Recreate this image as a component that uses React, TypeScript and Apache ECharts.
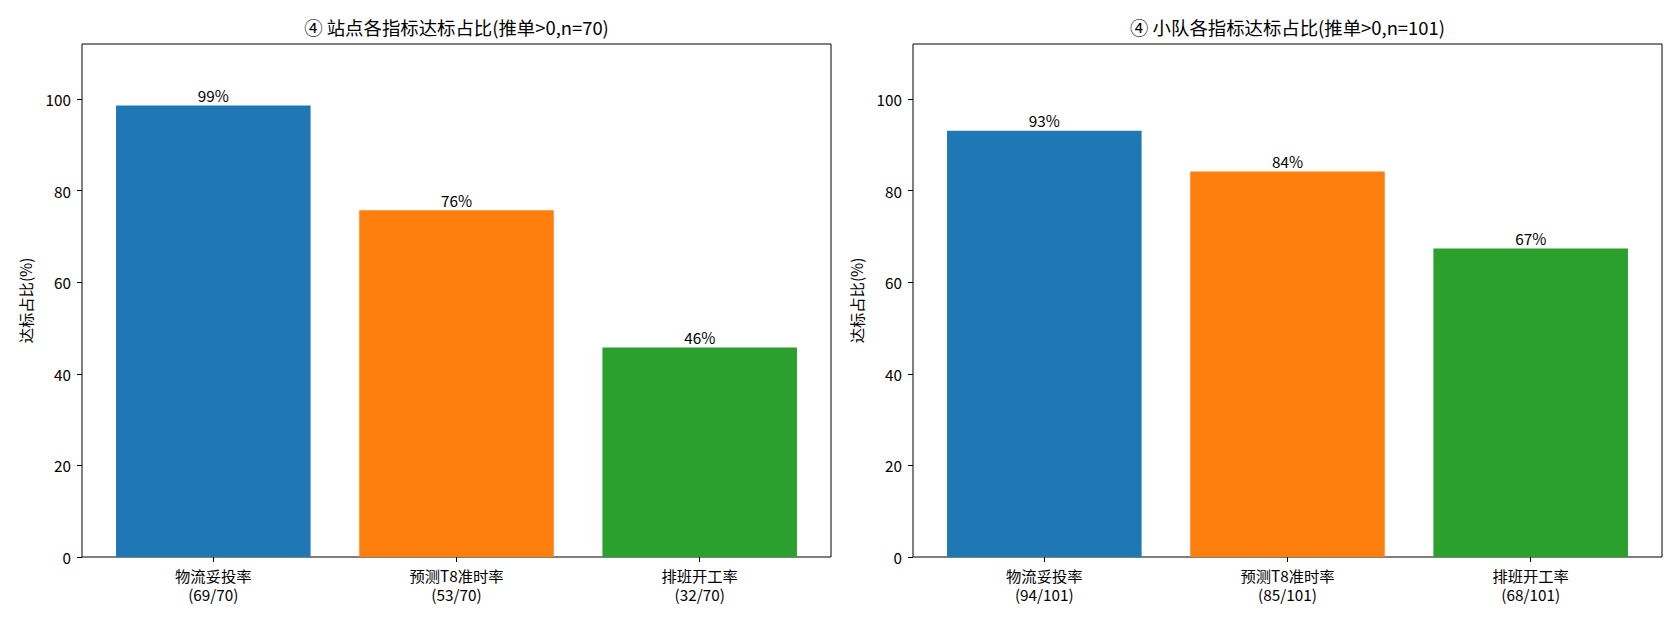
import React, { useEffect, useRef } from "react";
import * as echarts from "echarts";

// ---- data ----
const categories = ["物流妥投率", "预测T8准时率", "排班开工率"];
const siteHits = [69, 53, 32];
const siteTotal = 70;
const teamHits = [94, 85, 68];
const teamTotal = 101;
const barColors = ["#1f77b4", "#ff7f0e", "#2ca02c"];
const yTicks = [0, 20, 40, 60, 80, 100];
const siteTitle = "④ 站点各指标达标占比(推单>0,n=70)";
const teamTitle = "④ 小队各指标达标占比(推单>0,n=101)";
const yName = "达标占比(%)";

const FONT = "Noto Sans CJK SC";

export default function App() {
  const ref = useRef<HTMLDivElement>(null);
  useEffect(() => {
    if (!ref.current) return;
    const chart = echarts.init(ref.current, null, { renderer: "svg" });

    const grids = [
      { left: 82, top: 44, width: 749, height: 513 },
      { left: 913, top: 44, width: 749, height: 513 },
    ];
    const panels = [
      { hits: siteHits, total: siteTotal, title: siteTitle },
      { hits: teamHits, total: teamTotal, title: teamTitle },
    ];

    const xAxes = panels.map((p, i) => ({
      type: "value",
      gridIndex: i,
      min: -0.54,
      max: 2.54,
      position: "bottom",
      axisLine: { show: false, onZero: false },
      splitLine: { show: false },
      axisTick: {
        show: true,
        customValues: [0, 1, 2],
        length: 5,
        lineStyle: { color: "#000", width: 1 },
      },
      axisLabel: {
        customValues: [0, 1, 2],
        margin: 8,
        color: "#000",
        fontFamily: FONT,
        fontSize: 15.3,
        lineHeight: 19,
        formatter: (v: number) => {
          const k = Math.round(v);
          return `${categories[k]}\n(${p.hits[k]}/${p.total})`;
        },
      },
    }));

    const yAxes = panels.map((p, i) => ({
      type: "value",
      gridIndex: i,
      min: 0,
      max: 112,
      position: "left",
      axisLine: { show: false, onZero: false },
      splitLine: { show: false },
      axisTick: {
        show: true,
        customValues: yTicks,
        length: 5,
        lineStyle: { color: "#000", width: 1 },
      },
      axisLabel: {
        customValues: yTicks,
        margin: 11,
        color: "#000",
        fontFamily: FONT,
        fontSize: 15.3,
      },
      name: yName,
      nameLocation: "middle",
      nameGap: 49,
      nameTextStyle: { color: "#000", fontFamily: FONT, fontSize: 15.3 },
    }));

    const series = panels.map((p, i) => ({
      type: "bar",
      xAxisIndex: i,
      yAxisIndex: i,
      barWidth: (0.8 / 3.08) * grids[i].width,
      data: p.hits.map((h, k) => ({
        value: [k, (h / p.total) * 100],
        itemStyle: { color: barColors[k] },
      })),
      label: {
        show: true,
        position: "top",
        distance: 3,
        color: "#000",
        fontFamily: FONT,
        fontSize: 15.3,
        formatter: (params: any) =>
          `${Math.round((p.hits[params.dataIndex] / p.total) * 100)}%`,
      },
    }));

    chart.setOption({
      animation: false,
      backgroundColor: "#fff",
      grid: grids.map((g) => ({
        ...g,
        show: true,
        borderColor: "#000",
        borderWidth: 1,
        backgroundColor: "transparent",
        containLabel: false,
      })),
      xAxis: xAxes,
      yAxis: yAxes,
      series,
      graphic: panels.map((p, i) => ({
        type: "text",
        x: grids[i].left + grids[i].width / 2,
        y: 26.5,
        style: {
          text: p.title,
          fill: "#000",
          font: `18.4px "${FONT}"`,
          textAlign: "center",
          textVerticalAlign: "middle",
        },
      })),
    });

    return () => chart.dispose();
  }, []);

  return (
    <div
      ref={ref}
      style={{ position: "fixed", left: 0, top: 0, width: 1680, height: 624 }}
    />
  );
}
